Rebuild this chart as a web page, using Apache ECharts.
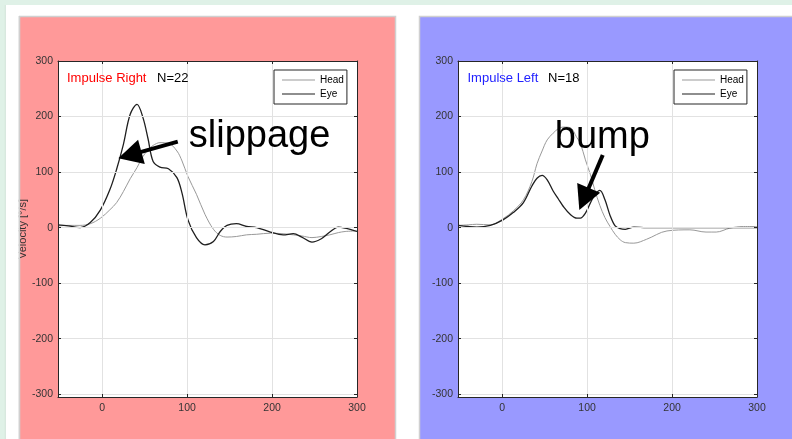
<!DOCTYPE html>
<html>
<head>
<meta charset="utf-8">
<script src="https://cdn.jsdelivr.net/npm/echarts@6/dist/echarts.min.js"></script>
<style>
html,body{margin:0;padding:0;background:#fff;}
#c{width:792px;height:439px;}
</style>
</head>
<body>
<div id="c"></div>
<script>
// ---- data ----
const xTicks = [0, 100, 200, 300];
const yTicks = [-300, -200, -100, 0, 100, 200, 300];

// Panel 1: Impulse Right, N=22
const rightImpTime = [-52,-40,-26,-14,-2,9,17,25,33,41,48,54,60,68,78,88,94,101,111,121,131,139,147,158,170,182,198,213,225,235,247,258,268,278,286,300];
const rightImpHead = [3,4,4,7,17,32,45,65,88,108,128,140,148,153,152,138,120,92,60,24,-3,-14,-17,-16,-13,-12,-10,-11,-13,-15,-18,-16,-13,-9,-7,-6];
const rightImpEye  = [5,3,0,9,32,68,105,150,204,222,198,160,119,109,106,90,62,14,-18,-31,-25,-7,4,7,2,0,-8,-13,-11,-17,-26,-20,-8,1,-1,-7];

// Panel 2: Impulse Left, N=18
const leftImpTime = [-52,-40,-30,-14,1,13,25,35,41,47,53,60,66,72,80,88,92,98,104,109,115,121,127,133,139,145,155,170,194,221,240,252,268,284,300];
const leftImpHead = [4,5,6,5,16,30,50,83,115,138,158,170,178,181,180,162,152,122,95,68,40,18,2,-12,-22,-27,-28,-21,-6,-4,-8,-8,-1,2,2];
const leftImpEye  = [4,2,1,4,14,27,45,75,89,94,86,66,52,38,24,17,17,26,45,59,67,50,22,3,-2,-3,1,0,0,0,0,0,0,0,0];

const panelTitles = ['Impulse Right', 'Impulse Left'];
const panelN = ['N=22', 'N=18'];
const seriesNames = ['Head', 'Eye'];

const FONT = 'Liberation Sans, Arial, Helvetica, sans-serif';
const chart = echarts.init(document.getElementById('c'), null, {renderer: 'canvas'});

function pairs(t, v) { return t.map((x, i) => [x, v[i]]); }

const grids = [
  {left: 58, top: 61, width: 299, height: 336, show: true, backgroundColor: '#ffffff', borderWidth: 0},
  {left: 458, top: 61, width: 299, height: 336, show: true, backgroundColor: '#ffffff', borderWidth: 0}
];

function xAx(g, pos) {
  const bottom = pos === 'bottom';
  return {
    type: 'value', gridIndex: g, position: pos, min: -52, max: 300, z: 5,
    axisLine: {show: true, onZero: false, lineStyle: {color: '#262626', width: 1}},
    axisTick: {show: true, inside: true, length: 3, customValues: xTicks, lineStyle: {color: '#262626'}},
    axisLabel: {show: bottom, customValues: xTicks, color: '#333', fontSize: 10.5, fontFamily: FONT, margin: 6},
    splitLine: {show: false}
  };
}
function yAx(g, pos) {
  const left = pos === 'left';
  const o = {
    type: 'value', gridIndex: g, position: pos, min: -305, max: 300, z: 5,
    axisLine: {show: true, onZero: false, lineStyle: {color: '#262626', width: 1}},
    axisTick: {show: true, inside: true, length: 3, customValues: yTicks, lineStyle: {color: '#262626'}},
    axisLabel: {show: left, customValues: yTicks, color: '#333', fontSize: 10.5, fontFamily: FONT, margin: 5},
    splitLine: {show: false}
  };
  if (left && g === 0) {
    o.name = 'Velocity [°/s]';
    o.nameLocation = 'middle';
    o.nameRotate = 90;
    o.nameGap = 30;
    o.nameTextStyle = {color: '#333', fontSize: 11, fontFamily: FONT};
  }
  return o;
}

function mkGridLines(xi) {
  return {
    type: 'line', xAxisIndex: xi, yAxisIndex: xi, data: [], silent: true, z: 1,
    markLine: {
      silent: true, symbol: 'none', animation: false,
      label: {show: false},
      lineStyle: {color: '#e2e2e2', width: 1, type: 'solid'},
      emphasis: {disabled: true},
      data: xTicks.map(v => ({xAxis: v})).concat(yTicks.map(v => ({yAxis: v})))
    }
  };
}

function mkSeries(name, xi, data, isEye) {
  return {
    name: name, type: 'line', xAxisIndex: xi, yAxisIndex: xi, data: data,
    symbol: 'none', showSymbol: false, smooth: 0.35,
    lineStyle: {color: isEye ? '#1f1f1f' : '#999999', width: isEye ? 1.3 : 1},
    itemStyle: {color: isEye ? '#1f1f1f' : '#999999'},
    z: isEye ? 4 : 3
  };
}

function mkLegend(left) {
  return {
    orient: 'vertical', left: left, top: 70, data: seriesNames,
    icon: 'rect', itemWidth: 33, itemHeight: 1.2, itemGap: 2, padding: [4, 3, 4, 8],
    backgroundColor: '#ffffff', borderColor: '#262626', borderWidth: 1,
    textStyle: {color: '#000', fontSize: 10, lineHeight: 12, fontFamily: FONT},
    selectedMode: false, z: 10
  };
}

const bgElems = [
  {type: 'rect', id: 'mintTop', shape: {x: 0, y: 0, width: 792, height: 5}, style: {fill: '#dff1e7'}, z: -10},
  {type: 'rect', id: 'mintLeft', shape: {x: 0, y: 0, width: 5, height: 439}, style: {fill: '#dff1e7'}, z: -10},
  {type: 'rect', id: 'panelL', shape: {x: 19.5, y: 16.5, width: 376, height: 440}, style: {fill: '#ff9999', stroke: '#d0d0d0', lineWidth: 1.5}, z: -9},
  {type: 'rect', id: 'panelR', shape: {x: 419.5, y: 16.5, width: 390, height: 440}, style: {fill: '#9999ff', stroke: '#d0d0d0', lineWidth: 1.5}, z: -9},
  {type: 'rect', id: 'coverL', shape: {x: 5.5, y: 0, width: 13.3, height: 439}, style: {fill: '#ffffff'}, z: 50},
  {type: 'rect', id: 'mintTop2', shape: {x: 0, y: 0, width: 792, height: 5}, style: {fill: '#dff1e7'}, z: 51},
  {type: 'line', id: 'edgeL', shape: {x1: 19.3, y1: 16, x2: 19.3, y2: 439}, style: {stroke: '#d0d0d0', lineWidth: 1.5}, z: 51},
  {type: 'line', id: 'mintEdge', shape: {x1: 5.3, y1: 5, x2: 5.3, y2: 439}, style: {stroke: '#cfe3d7', lineWidth: 1}, z: 51},
  {type: 'text', id: 't1', style: {text: panelTitles[0], x: 67, y: 78, fill: '#ff0000', fontSize: 13, fontFamily: FONT, verticalAlign: 'middle'}, z: 20},
  {type: 'text', id: 'n1', style: {text: panelN[0], x: 157, y: 78, fill: '#000', fontSize: 13, fontFamily: FONT, verticalAlign: 'middle'}, z: 20},
  {type: 'text', id: 't2', style: {text: panelTitles[1], x: 467.5, y: 78, fill: '#2222ff', fontSize: 13, fontFamily: FONT, verticalAlign: 'middle'}, z: 20},
  {type: 'text', id: 'n2', style: {text: panelN[1], x: 548, y: 78, fill: '#000', fontSize: 13, fontFamily: FONT, verticalAlign: 'middle'}, z: 20}
];

chart.setOption({
  animation: false,
  backgroundColor: '#ffffff',
  grid: grids,
  xAxis: [xAx(0, 'bottom'), xAx(0, 'top'), xAx(1, 'bottom'), xAx(1, 'top')],
  yAxis: [yAx(0, 'left'), yAx(0, 'right'), yAx(1, 'left'), yAx(1, 'right')],
  legend: [mkLegend(274), mkLegend(674)],
  series: [
    mkGridLines(0),
    mkGridLines(2),
    mkSeries('Head', 0, pairs(rightImpTime, rightImpHead), false),
    mkSeries('Eye', 0, pairs(rightImpTime, rightImpEye), true),
    mkSeries('Head', 2, pairs(leftImpTime, leftImpHead), false),
    mkSeries('Eye', 2, pairs(leftImpTime, leftImpEye), true)
  ],
  graphic: {elements: bgElems}
});

// ---- annotations anchored in data coordinates ----
const annotations = [
  {axis: 0, text: 'slippage', textAt: [102, 164], tail: [89, 154.7], tip: [19, 124.8]},
  {axis: 2, text: 'bump', textAt: [62, 163], tail: [118.4, 130.8], tip: [90.8, 31.7]}
];

const annElems = [];
annotations.forEach((a, k) => {
  const f = {xAxisIndex: a.axis, yAxisIndex: a.axis};
  const tp = chart.convertToPixel(f, a.textAt);
  const p0 = chart.convertToPixel(f, a.tail);
  const p1 = chart.convertToPixel(f, a.tip);
  const dx = p1[0] - p0[0], dy = p1[1] - p0[1];
  const L = Math.hypot(dx, dy), ux = dx / L, uy = dy / L;
  const hl = 24, hw = 12.5;
  const bx = p1[0] - ux * hl, by = p1[1] - uy * hl;
  const nx = -uy, ny = ux;
  annElems.push({type: 'text', id: 'at' + k, style: {text: a.text, x: tp[0], y: tp[1], fill: '#000', fontSize: 38, fontFamily: FONT, verticalAlign: 'middle'}, z: 30});
  annElems.push({type: 'line', id: 'al' + k, shape: {x1: p0[0], y1: p0[1], x2: bx + ux * 3, y2: by + uy * 3}, style: {stroke: '#000', lineWidth: 4}, z: 30});
  annElems.push({type: 'polygon', id: 'ah' + k, shape: {points: [[p1[0], p1[1]], [bx + nx * hw, by + ny * hw], [bx - nx * hw, by - ny * hw]]}, style: {fill: '#000'}, z: 30});
});
chart.setOption({graphic: {elements: annElems}});
</script>
</body>
</html>
